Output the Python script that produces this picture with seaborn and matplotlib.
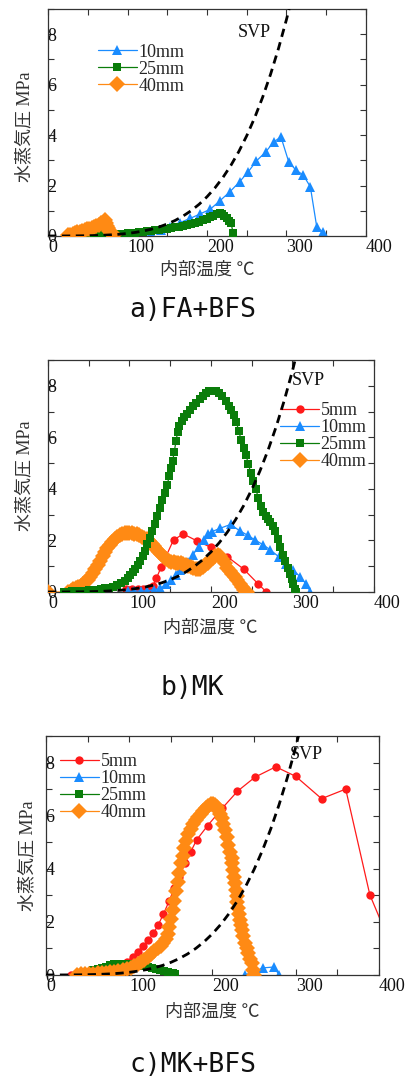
import matplotlib
matplotlib.use("Agg")
import matplotlib.pyplot as plt
import seaborn as sns

# ---------------------------------------------------------------- data
# Saturated vapour pressure of water (steam table), MPa
svp_t = [0, 10, 20, 30, 40, 50, 60, 70, 80, 90, 100, 110, 120, 130, 140, 150,
         160, 170, 180, 190, 200, 210, 220, 230, 240, 250, 260, 270, 280, 290,
         300, 310]
svp_p = [0.0006, 0.0012, 0.0023, 0.0042, 0.0074, 0.0124, 0.0199, 0.0312,
         0.0474, 0.0702, 0.1014, 0.1434, 0.1987, 0.2703, 0.3615, 0.4762,
         0.6182, 0.7922, 1.0028, 1.2552, 1.5549, 1.9077, 2.3196, 2.7971,
         3.3469, 3.9762, 4.6923, 5.5030, 6.4166, 7.4418, 8.5879, 9.8651]

# a) FA+BFS
a10_t = [70, 82, 94, 106, 118, 130, 142, 154, 166, 179, 191, 204, 216, 229, 241,
         252, 262, 274, 284, 293, 303, 312, 321, 330, 338, 346]
a10_p = [0.0, 0.01, 0.02, 0.04, 0.08, 0.13, 0.22, 0.36, 0.53, 0.70, 0.87, 1.06,
         1.39, 1.76, 2.15, 2.55, 2.97, 3.34, 3.73, 3.93, 2.92, 2.61, 2.42, 1.95,
         0.37, 0.15]
a25_t = [40, 45, 50, 55, 60, 65, 70, 75, 80, 85, 90, 95, 100, 105, 110, 115, 120,
         125, 130, 135, 140, 145, 150, 155, 160, 165, 170, 175, 180, 185, 190,
         195, 200, 204, 208, 212, 216, 219, 222, 225, 228, 230, 233]
a25_p = [0.03, 0.04, 0.04, 0.05, 0.05, 0.06, 0.06, 0.07, 0.07, 0.08, 0.08, 0.09,
         0.10, 0.11, 0.12, 0.14, 0.16, 0.18, 0.20, 0.22, 0.24, 0.26, 0.28, 0.31,
         0.34, 0.37, 0.40, 0.44, 0.48, 0.52, 0.56, 0.62, 0.68, 0.74, 0.80, 0.87,
         0.92, 0.88, 0.80, 0.70, 0.60, 0.53, 0.12]
a40_t = [25, 28, 31, 34, 37, 40, 43, 46, 49, 52, 55, 58, 61, 64, 67, 70, 72, 73,
         74, 75, 77, 79, 81, 83]
a40_p = [0.02, 0.05, 0.08, 0.11, 0.14, 0.17, 0.20, 0.23, 0.26, 0.29, 0.32, 0.36,
         0.40, 0.45, 0.51, 0.57, 0.64, 0.52, 0.40, 0.30, 0.20, 0.12, 0.06, 0.02]

# b) MK
b5_t = [96, 103, 110, 117, 124, 129, 133, 139, 154, 166, 183, 200, 220, 240, 258,
        268]
b5_p = [0.10, 0.10, 0.10, 0.12, 0.15, 0.25, 0.53, 0.98, 2.02, 2.25, 1.98, 1.73,
        1.37, 0.89, 0.31, 0.0]
b10_t = [98, 106, 114, 122, 130, 138, 145, 151, 157, 162, 167, 172, 178, 185,
         191, 196, 201, 211, 224, 235, 245, 254, 264, 273, 283, 292, 301, 309,
         317, 322]
b10_p = [0.02, 0.03, 0.04, 0.05, 0.08, 0.15, 0.30, 0.47, 0.65, 0.85, 1.00, 1.18,
         1.45, 1.76, 2.02, 2.25, 2.34, 2.47, 2.62, 2.38, 2.20, 2.02, 1.83, 1.63,
         1.37, 1.10, 0.85, 0.60, 0.30, 0.0]
b25_t = [20, 25, 30, 35, 40, 45, 50, 55, 60, 65, 70, 75, 80, 85, 90, 94, 98, 101,
         104, 107, 110, 113, 116, 119, 122, 125, 128, 131, 134, 137, 140, 143,
         146, 149, 151, 153, 155, 157, 159, 161, 164, 167, 170, 174, 178, 182,
         186, 190, 194, 198, 202, 206, 210, 214, 218, 222, 225, 228, 231, 234,
         237, 240, 243, 246, 249, 252, 255, 258, 261, 264, 267, 270, 273, 276,
         279, 282, 285, 288, 291, 294, 297, 299, 301, 303, 304]
b25_p = [0.0, 0.01, 0.02, 0.03, 0.04, 0.05, 0.06, 0.07, 0.09, 0.11, 0.14, 0.17,
         0.21, 0.27, 0.35, 0.44, 0.55, 0.65, 0.77, 0.90, 1.05, 1.20, 1.40, 1.60,
         1.85, 2.10, 2.35, 2.65, 2.95, 3.25, 3.55, 3.85, 4.15, 4.50, 4.80, 5.10,
         5.45, 5.85, 6.20, 6.45, 6.65, 6.80, 6.92, 7.05, 7.20, 7.35, 7.50, 7.62,
         7.72, 7.78, 7.80, 7.78, 7.72, 7.60, 7.42, 7.20, 7.05, 6.85, 6.60, 6.25,
         5.90, 5.60, 5.30, 4.95, 4.60, 4.30, 4.00, 3.65, 3.35, 3.10, 2.95, 2.85,
         2.72, 2.55, 2.35, 2.05, 1.75, 1.45, 1.20, 0.95, 0.70, 0.50, 0.30, 0.10,
         0.0]
b40_t = [0, 25, 28, 31, 34, 37, 40, 43, 46, 49, 52, 55, 58, 61, 64, 67, 70, 73,
         76, 79, 82, 85, 88, 91, 94, 97, 100, 103, 106, 109, 112, 115, 118, 121,
         124, 127, 130, 133, 136, 139, 142, 145, 148, 151, 154, 157, 160, 163,
         166, 169, 172, 175, 178, 181, 184, 187, 190, 193, 196, 199, 202, 205,
         208, 211, 214, 217, 220, 223, 226, 229, 232, 235, 238, 241, 244]
b40_p = [0.0, 0.0, 0.05, 0.10, 0.14, 0.18, 0.23, 0.30, 0.38, 0.48, 0.60, 0.73,
         0.88, 1.03, 1.20, 1.38, 1.55, 1.70, 1.83, 1.95, 2.05, 2.13, 2.20, 2.25,
         2.28, 2.30, 2.30, 2.28, 2.26, 2.24, 2.20, 2.15, 2.10, 2.05, 1.97, 1.88,
         1.78, 1.68, 1.57, 1.47, 1.37, 1.28, 1.20, 1.16, 1.15, 1.14, 1.13, 1.12,
         1.10, 1.06, 1.02, 0.98, 0.94, 0.90, 0.88, 0.90, 0.96, 1.04, 1.13, 1.24,
         1.33, 1.40, 1.45, 1.40, 1.28, 1.12, 0.95, 0.80, 0.70, 0.60, 0.45, 0.30,
         0.18, 0.08, 0.0]

# c) MK+BFS
c5_t = [30, 45, 60, 72, 82, 90, 97, 104, 110, 116, 123, 129, 135, 141, 148, 154,
        160, 167, 174, 181, 194, 212, 230, 251, 276, 300, 331, 360, 389, 410]
c5_p = [0.0, 0.03, 0.08, 0.15, 0.25, 0.38, 0.50, 0.69, 0.88, 1.08, 1.30, 1.57,
        1.90, 2.29, 2.79, 3.27, 3.70, 4.20, 4.65, 5.09, 5.62, 6.29, 6.92, 7.45,
        7.84, 7.48, 6.64, 7.00, 3.02, 1.45]
c10_t = [239, 261, 274, 280]
c10_p = [0.0, 0.27, 0.30, 0.0]
c25_t = [37, 42, 47, 52, 57, 62, 67, 72, 77, 82, 87, 92, 97, 102, 107, 112, 117,
         122, 127, 132, 137, 142, 147, 152, 155]
c25_p = [0.0, 0.04, 0.08, 0.12, 0.17, 0.22, 0.27, 0.32, 0.37, 0.41, 0.43, 0.43,
         0.42, 0.40, 0.38, 0.36, 0.33, 0.30, 0.27, 0.23, 0.19, 0.15, 0.11, 0.07,
         0.04]
c40_t = [37, 42, 47, 52, 57, 62, 67, 72, 77, 82, 87, 92, 97, 102, 106, 110, 114,
         118, 122, 126, 130, 134, 138, 141, 144, 146, 148, 150, 152, 154, 156,
         158, 160, 162, 164, 166, 168, 171, 174, 177, 180, 183, 186, 189, 192,
         195, 198, 201, 203, 205, 207, 209, 211, 213, 215, 217, 219, 221, 223,
         224, 225, 226, 227, 228, 229, 230, 231, 232, 233, 234, 235, 237, 239,
         241, 243, 245, 247, 249, 250]
c40_p = [0.0, 0.02, 0.03, 0.04, 0.05, 0.06, 0.07, 0.09, 0.11, 0.13, 0.15, 0.18,
         0.22, 0.27, 0.33, 0.40, 0.48, 0.57, 0.67, 0.78, 0.89, 1.00, 1.10, 1.20,
         1.35, 1.55, 1.80, 2.10, 2.45, 2.80, 3.15, 3.50, 3.85, 4.20, 4.50, 4.80,
         5.05, 5.30, 5.50, 5.68, 5.83, 5.96, 6.08, 6.18, 6.28, 6.37, 6.43, 6.45,
         6.40, 6.32, 6.20, 6.05, 5.90, 5.70, 5.47, 5.20, 4.90, 4.65, 4.40, 4.20,
         3.95, 3.70, 3.46, 3.20, 2.96, 2.75, 2.52, 2.30, 2.08, 1.90, 1.70, 1.45,
         1.19, 1.00, 0.82, 0.62, 0.44, 0.20, 0.0]

panel_titles = ["a)FA+BFS", "b)MK", "c)MK+BFS"]
x_ticks = [0, 100, 200, 300, 400]
y_ticks = [0, 2, 4, 6, 8]

# ---------------------------------------------------------------- style
sns.set_theme(style="ticks")
plt.rcParams["font.family"] = ["Liberation Serif", "Noto Sans CJK JP", "DejaVu Sans"]
plt.rcParams["axes.edgecolor"] = "#333333"
plt.rcParams["axes.linewidth"] = 0.9

RED, BLUE, GREEN, ORANGE = "#ff1a1a", "#1a8cff", "#0a7d0a", "#ff8a14"
STYLE = {
    "5mm": dict(color=RED, marker="o", markersize=6.0, linewidth=0.9),
    "10mm": dict(color=BLUE, marker="^", markersize=7.2, linewidth=0.9),
    "25mm": dict(color=GREEN, marker="s", markersize=6.2, linewidth=0.9),
    "40mm": dict(color=ORANGE, marker="D", markersize=8.2, linewidth=0.9),
}

W, H = 406, 1081
fig = plt.figure(figsize=(W / 100, H / 100), dpi=100)


def add_axes(left, right, top, bottom):
    return fig.add_axes([left / W, 1 - bottom / H, (right - left) / W, (bottom - top) / H])


panels = [
    dict(box=(48, 366, 9, 236),
         series=[("10mm", a10_t, a10_p, 2), ("25mm", a25_t, a25_p, 3), ("40mm", a40_t, a40_p, 4)],
         legend=(0.157, 0.848), svp=(260, 8.08),
         xlab=(0.5, -0.15), ylab=(-0.072, 0.48), title=(193, 310)),
    dict(box=(48, 374, 360, 592),
         series=[("5mm", b5_t, b5_p, 2), ("10mm", b10_t, b10_p, 2),
                 ("25mm", b25_t, b25_p, 4), ("40mm", b40_t, b40_p, 3)],
         legend=(0.712, 0.817), svp=(319, 8.19),
         xlab=(0.497, -0.155), ylab=(-0.0706, 0.5), title=(192, 688)),
    dict(box=(46, 379, 736, 975),
         series=[("5mm", c5_t, c5_p, 2), ("10mm", c10_t, c10_p, 2),
                 ("25mm", c25_t, c25_p, 3), ("40mm", c40_t, c40_p, 4)],
         legend=(0.042, 0.927), svp=(313, 8.3),
         xlab=(0.498, -0.155), ylab=(-0.054, 0.498), title=(193, 1065)),
]

for pan, title in zip(panels, panel_titles):
    ax = add_axes(*pan["box"])
    for name, t, p, z in pan["series"]:
        st = STYLE[name]
        sns.lineplot(x=t, y=p, ax=ax, sort=False, estimator=None, label=name,
                     color=st["color"], marker=st["marker"], markersize=st["markersize"],
                     markeredgewidth=0, linewidth=st["linewidth"], zorder=z)
    sns.lineplot(x=svp_t, y=svp_p, ax=ax, sort=False, estimator=None, color="black",
                 linewidth=2.0, linestyle=(0, (3, 2)), zorder=6)
    ax.text(*pan["svp"], "SVP", ha="center", va="center", fontsize=13, color="#111111")

    ax.set_xlim(0, 400)
    ax.set_ylim(0, 9)
    ax.set_xticks(x_ticks, labels=[str(v) for v in x_ticks], ha="left")
    ax.set_yticks(y_ticks, labels=[str(v) for v in y_ticks], ha="left")
    ax.xaxis.set_minor_locator(plt.MultipleLocator(50))
    ax.yaxis.set_minor_locator(plt.MultipleLocator(1))
    ax.tick_params(which="both", direction="in", top=True, right=True,
                   length=4, width=0.8, color="#333333", labelsize=13, labelcolor="#111111")
    ax.tick_params(axis="y", pad=0.5)
    ax.tick_params(axis="x", pad=2.5)

    ax.set_xlabel("内部温度 ℃", fontsize=13, color="#333333", va="center")
    ax.xaxis.set_label_coords(*pan["xlab"])
    ax.set_ylabel("水蒸気圧 MPa", fontsize=13, color="#333333", va="center", ha="center")
    ax.yaxis.set_label_coords(*pan["ylab"])

    handles, labels = ax.get_legend_handles_labels()
    order = sorted(range(len(labels)), key=lambda i: float(labels[i].replace("mm", "")))
    ax.legend([handles[i] for i in order], [labels[i] for i in order],
              loc="upper left", bbox_to_anchor=pan["legend"], frameon=False,
              fontsize=13, handlelength=2.15, handletextpad=0.1, labelspacing=0.0,
              borderpad=0, borderaxespad=0)

    fig.text(pan["title"][0] / W, 1 - pan["title"][1] / H, title, ha="center", va="center",
             fontsize=19, family="DejaVu Sans Mono", color="#111111")

fig.savefig("out.png", dpi=100)
